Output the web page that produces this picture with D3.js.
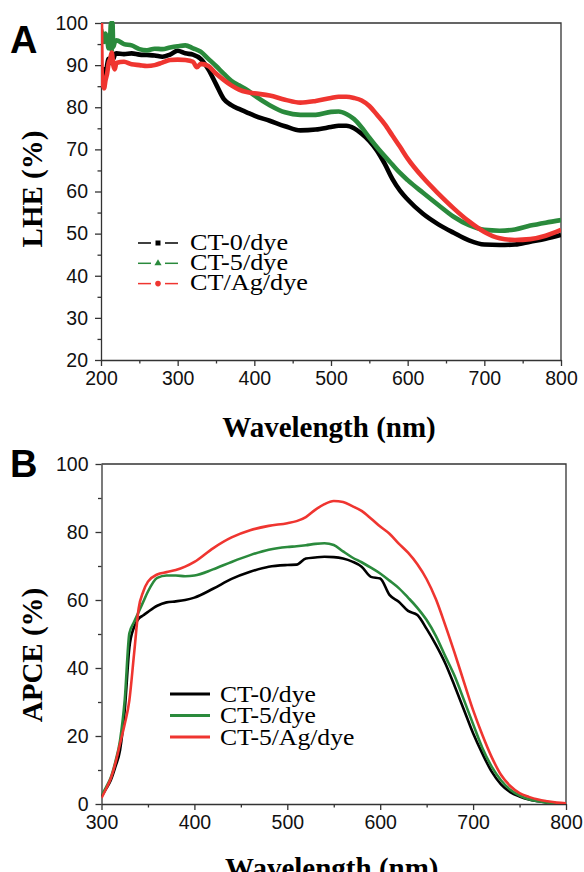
<!DOCTYPE html>
<html>
<head>
<meta charset="utf-8">
<script src="https://cdn.jsdelivr.net/npm/d3@7"></script>
<style>
  body { margin: 0; background: #fff; }
  svg { display: block; }
  .tick text { font-family: "Liberation Sans", Arial, sans-serif; font-size: 19.5px; fill: #111; }
  .axis path, .axis line { stroke: #333; stroke-width: 1.3; }
</style>
</head>
<body>
<script>
// ---- Panel A: LHE (%) vs wavelength ----
var lheWlCT0 = [200,202,204,206,208,210,212,214,216,218,220,230,240,250,260,270,280,290,300,310,320,330,340,350,360,370,380,390,400,420,440,460,480,500,510,520,530,540,550,560,570,580,590,600,620,640,660,680,700,720,740,760,780,800];
var lheCT0   = [88,86,89,87.5,90,91.5,90.5,92,91.5,92.5,92.8,92.6,92.8,92.5,92.4,92.3,92.0,92.5,93.4,92.8,92.5,91.5,89,85.5,82,80.5,79.6,78.8,78.0,76.8,75.5,74.5,74.7,75.3,75.6,75.6,75,73.7,72,69.7,66.6,63,60.2,58.1,54.7,52.2,50.2,48.4,47.4,47.3,47.4,48.1,48.8,49.7];

var lheWlCT5 = [200,202,204,206,208,210,212,213,214,215,216,218,220,230,240,250,260,270,280,290,300,310,320,330,340,350,360,370,380,390,400,420,440,460,480,500,510,520,530,540,550,560,570,580,590,600,620,640,660,680,700,720,740,760,780,800];
var lheCT5   = [98.5,97,95.5,97.5,96,94,97,100,93.5,100,94.3,95.5,95.9,95.0,94.7,93.8,93.5,93.9,93.8,94.2,94.5,94.7,94.0,93.2,91.5,89.8,88,86.3,85.2,84.2,82.8,80.5,78.8,78.2,78.2,78.9,79.0,78.4,77.2,75.2,72.8,70.5,68.4,66.4,64.4,62.7,59.7,56.8,54.0,52.0,50.9,50.7,51.0,51.9,52.6,53.2];

var lheWlAg  = [200,201,202,204,206,208,210,212,214,216,218,220,230,240,250,260,270,280,290,300,310,320,325,330,340,350,360,370,380,390,400,420,440,460,480,500,510,520,530,540,550,560,570,580,590,600,620,640,660,680,700,720,740,760,780,800];
var lheAg    = [100,88,86,84.5,86.5,88,90.5,91.5,93,90,89,90.5,90.8,90.2,90,89.8,90,90.6,91.2,91.3,91.2,90.8,89.5,90.3,89.8,88.0,86.5,85.2,84.2,83.6,83.3,82.8,81.8,81.1,81.5,82.2,82.5,82.5,82.2,81.6,80.3,78.2,76,73.3,70.6,67.8,63.3,59.5,56.0,52.9,50.4,48.9,48.5,48.7,49.5,50.9];

var lheXTicks = [200,300,400,500,600,700,800];
var lheYTicks = [20,30,40,50,60,70,80,90,100];

// ---- Panel B: APCE (%) vs wavelength ----
var apceWl = [300,305,310,315,320,325,330,335,340,345,350,360,370,380,390,400,420,440,460,480,500,510,520,530,540,550,560,570,580,590,600,610,620,630,640,650,660,670,680,690,700,710,720,730,740,750,760,770,780,790,800];
var apceCT0 = [2.2,4.5,7,11,15.9,27.6,46,52,54.5,55.5,56.5,58.3,59.3,59.6,60.0,60.7,63.3,66.2,68.3,69.8,70.3,70.4,72.2,72.5,72.7,72.6,72.2,71.3,69.8,66.8,66.3,61.5,59.5,56.8,55.6,51.5,46.8,41.4,34.8,27.8,20.8,14.8,9.5,5.8,3.5,2.2,1.3,0.8,0.4,0.2,0];
var apceCT5 = [2.6,5,7.8,12.5,18.8,30.6,50.2,53.5,56.5,59.5,62.5,66.5,67.2,67.2,67.0,67.2,69,71.2,73.2,74.8,75.6,75.8,76.1,76.5,76.7,76.2,74.3,72.5,71.1,69.5,67.8,65.7,63.5,60.7,57.7,54.1,49.4,43.5,37.7,30.7,23.5,16.5,11,7,4.2,2.5,1.4,0.8,0.4,0.2,0];
var apceAg  = [1.8,4.5,7.5,12,17.8,23.5,30.5,44,57.5,62.5,65.4,67.5,68.2,68.8,69.8,71.2,75.2,78.4,80.5,81.8,82.6,83.2,84.4,86.5,88.2,89.1,88.8,87.6,86.2,84,81.6,79.5,76.6,73.9,70.5,66.1,60.2,52.6,44.5,36,27.6,20.3,13.8,8.6,5.3,3.2,2.1,1.3,0.8,0.4,0.2];

var apceXTicks = [300,400,500,600,700,800];
var apceYTicks = [0,20,40,60,80,100];

var legendA = ["CT-0/dye", "CT-5/dye", "CT/Ag/dye"];
var legendB = ["CT-0/dye", "CT-5/dye", "CT-5/Ag/dye"];
var colors = ["#000000", "#2a8a3c", "#ef3530"];

var W = 584, H = 872;
var svg = d3.select("body").append("svg").attr("width", W).attr("height", H);

function minorTicks(lo, hi, step) {
    var out = [];
    for (var v = lo; v <= hi + 1e-9; v += step) out.push(v);
    return out;
}

function panel(opt) {
    var x = d3.scaleLinear().domain(opt.xDom).range([opt.left, opt.right]);
    var y = d3.scaleLinear().domain(opt.yDom).range([opt.bottom, opt.top]);
    var g = svg.append("g");

    // minor ticks
    g.append("g").attr("class", "axis")
        .attr("transform", "translate(0," + opt.bottom + ")")
        .call(d3.axisBottom(x).tickValues(opt.xMinor).tickSize(3.5).tickFormat(""))
        .select(".domain").remove();
    g.append("g").attr("class", "axis")
        .attr("transform", "translate(" + opt.left + ",0)")
        .call(d3.axisLeft(y).tickValues(opt.yMinor).tickSize(3.5).tickFormat(""))
        .select(".domain").remove();

    // major
    g.append("g").attr("class", "axis")
        .attr("transform", "translate(0," + opt.bottom + ")")
        .call(d3.axisBottom(x).tickValues(opt.xTicks).tickSizeInner(6).tickSizeOuter(0).tickPadding(5).tickFormat(d3.format("d")));
    g.append("g").attr("class", "axis")
        .attr("transform", "translate(" + opt.left + ",0)")
        .call(d3.axisLeft(y).tickValues(opt.yTicks).tickSizeInner(6).tickSizeOuter(0).tickPadding(7).tickFormat(d3.format("d")));

    // top + right frame
    g.append("path")
        .attr("d", "M" + opt.left + "," + opt.top + "H" + opt.right + "V" + opt.bottom)
        .attr("fill", "none").attr("stroke", "#333").attr("stroke-width", 1.3);

    // clip
    g.append("clipPath").attr("id", opt.id + "clip")
        .append("rect").attr("x", opt.left).attr("y", opt.top - 2)
        .attr("width", opt.right - opt.left).attr("height", opt.bottom - opt.top + 2);

    var line = d3.line().curve(d3.curveMonotoneX)
        .x(function (d) { return x(d[0]); })
        .y(function (d) { return y(d[1]); });

    var lines = g.append("g").attr("clip-path", "url(#" + opt.id + "clip)");
    opt.series.forEach(function (s, i) {
        var pts = d3.zip(s.x, s.y);
        lines.append("path")
            .attr("d", line(pts))
            .attr("fill", "none")
            .attr("stroke", colors[i])
            .attr("stroke-width", opt.lineWidth)
            .attr("stroke-linejoin", "round");
    });

    // axis titles
    g.append("text")
        .attr("x", (opt.left + opt.right) / 2 - 2)
        .attr("y", opt.xTitleY)
        .attr("text-anchor", "middle")
        .style("font-family", "'Liberation Serif', 'Times New Roman', serif")
        .style("font-weight", "bold")
        .style("font-size", "29px")
        .text("Wavelength (nm)");
    g.append("text")
        .attr("transform", "translate(42," + opt.yTitleY + ") rotate(-90)")
        .attr("text-anchor", "middle")
        .style("font-family", "'Liberation Serif', 'Times New Roman', serif")
        .style("font-weight", "bold")
        .style("font-size", "29px")
        .text(opt.yTitle);

    // panel letter
    g.append("text")
        .attr("x", 10).attr("y", opt.letterY)
        .style("font-family", "'Liberation Sans', Arial, sans-serif")
        .style("font-weight", "bold")
        .style("font-size", "38px")
        .text(opt.letter);

    return { g: g, x: x, y: y };
}

var pA = panel({
    id: "a", letter: "A", letterY: 53,
    left: 101, right: 561, top: 23, bottom: 360,
    xDom: [200, 800], yDom: [20, 100],
    xTicks: lheXTicks, yTicks: lheYTicks,
    xMinor: minorTicks(250, 750, 100), yMinor: minorTicks(25, 95, 10),
    xTitleY: 437, yTitle: "LHE (%)", yTitleY: 189,
    lineWidth: 4.6,
    series: [{ x: lheWlCT0, y: lheCT0 }, { x: lheWlCT5, y: lheCT5 }, { x: lheWlAg, y: lheAg }]
});

var pB = panel({
    id: "b", letter: "B", letterY: 477,
    left: 101.5, right: 566, top: 464, bottom: 804,
    xDom: [300, 800], yDom: [0, 100],
    xTicks: apceXTicks, yTicks: apceYTicks,
    xMinor: minorTicks(350, 750, 100), yMinor: minorTicks(10, 90, 20),
    xTitleY: 878, yTitle: "APCE (%)", yTitleY: 655,
    lineWidth: 2.6,
    series: [{ x: apceWl, y: apceCT0 }, { x: apceWl, y: apceCT5 }, { x: apceWl, y: apceAg }]
});

// legend A: dashed line with a marker in the middle
var legA = svg.append("g");
legendA.forEach(function (name, i) {
    var cy = 243 + i * 20.3;
    var row = legA.append("g");
    row.append("line").attr("x1", 138).attr("x2", 151).attr("y1", cy).attr("y2", cy)
        .attr("stroke", colors[i]).attr("stroke-width", 1.5);
    row.append("line").attr("x1", 165).attr("x2", 178).attr("y1", cy).attr("y2", cy)
        .attr("stroke", colors[i]).attr("stroke-width", 1.5);
    if (i === 0) {
        row.append("rect").attr("x", 155.5).attr("y", cy - 2.5).attr("width", 5).attr("height", 5).attr("fill", colors[i]);
    } else if (i === 1) {
        row.append("path").attr("d", d3.symbol().type(d3.symbolTriangle).size(22)()).attr("transform", "translate(158," + cy + ")").attr("fill", colors[i]);
    } else {
        row.append("circle").attr("cx", 158).attr("cy", cy).attr("r", 2.8).attr("fill", colors[i]);
    }
    row.append("text")
        .attr("transform", "translate(190," + (cy + 6.5) + ") scale(1.14,1)")
        .style("font-family", "'Liberation Serif', 'Times New Roman', serif")
        .style("font-size", "23px")
        .text(name);
});

// legend B: solid line samples
var legB = svg.append("g");
legendB.forEach(function (name, i) {
    var cy = 694 + i * 21.5;
    legB.append("line").attr("x1", 170).attr("x2", 210).attr("y1", cy).attr("y2", cy)
        .attr("stroke", colors[i]).attr("stroke-width", 3);
    legB.append("text")
        .attr("transform", "translate(220," + (cy + 7.5) + ") scale(1.14,1)")
        .style("font-family", "'Liberation Serif', 'Times New Roman', serif")
        .style("font-size", "22.5px")
        .text(name);
});
</script>
</body>
</html>
